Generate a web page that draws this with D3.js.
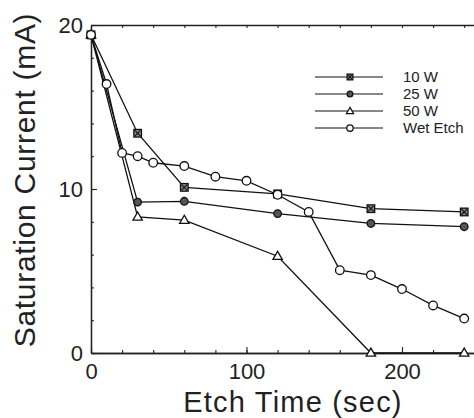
<!DOCTYPE html>
<html>
<head>
<meta charset="utf-8">
<script src="https://cdn.jsdelivr.net/npm/d3@7"></script>
<style>
body { margin: 0; background: #fff; }
svg { display: block; }
.axis path { stroke: #222; stroke-width: 1.3; }
.axis line { stroke: #222; stroke-width: 1.1; }
.axis text { font-family: "Liberation Sans", Arial, sans-serif; font-size: 22px; fill: #222; }
</style>
</head>
<body>
<script>
var w = 474, h = 418;
var margin = {"left": 91, "top": 25, "bottom": 65};

// data
var times = [0, 30, 60, 120, 180, 240];
var w10 = [19.4, 13.4, 10.1, 9.7, 8.8, 8.6];
var w25 = [19.4, 9.2, 9.25, 8.5, 7.9, 7.7];
var w50 = [19.4, 8.3, 8.1, 5.9, 0, 0];
var wetTimes = [0, 10, 20, 30, 40, 60, 80, 100, 120, 140, 160, 180, 200, 220, 240];
var wet = [19.4, 16.4, 12.2, 12.0, 11.6, 11.4, 10.75, 10.5, 9.65, 8.6, 5.05, 4.75, 3.9, 2.9, 2.1];
var seriesNames = ["10 W", "25 W", "50 W", "Wet Etch"];
var xTicks = [0, 100, 200];
var yTicks = [0, 10, 20];

var svg = d3.select("body").append("svg")
    .attr("width", w)
    .attr("height", h);

var xScale = d3.scaleLinear()
    .domain([0, 250])
    .range([margin.left, margin.left + 1.555 * 250]);

var yScale = d3.scaleLinear()
    .domain([0, 20])
    .range([h - margin.bottom, margin.top]);

// axes
var bottom = h - margin.bottom;
svg.append("g").classed("axis", true)
    .attr("transform", "translate(0," + bottom + ")")
    .call(d3.axisBottom(xScale).tickValues(d3.range(0, 250, 20)).tickSize(-3).tickFormat("").tickSizeOuter(0));
svg.append("g").classed("axis", true)
    .attr("transform", "translate(0," + bottom + ")")
    .call(d3.axisBottom(xScale).tickValues(xTicks).tickSize(-6).tickPadding(10).tickSizeOuter(0));
svg.append("g").classed("axis", true)
    .attr("transform", "translate(0," + margin.top + ")")
    .call(d3.axisTop(xScale).tickValues(d3.range(20, 250, 20)).tickSize(-3).tickFormat("").tickSizeOuter(0));
svg.append("g").classed("axis", true)
    .attr("transform", "translate(" + margin.left + ",0)")
    .call(d3.axisLeft(yScale).tickValues(d3.range(0, 21, 2)).tickSize(-3).tickFormat("").tickSizeOuter(0));
svg.append("g").classed("axis", true)
    .attr("transform", "translate(" + margin.left + ",0)")
    .call(d3.axisLeft(yScale).tickValues(yTicks).tickSize(-6).tickPadding(8).tickSizeOuter(0));

// axis titles
svg.append("text")
    .attr("x", 293).attr("y", 412)
    .attr("text-anchor", "middle")
    .style("font-family", "Liberation Sans, Arial, sans-serif")
    .style("font-size", "29px")
    .style("letter-spacing", "1.2px")
    .attr("fill", "#222")
    .text("Etch Time (sec)");

svg.append("text")
    .attr("transform", "translate(35,180) rotate(-90)")
    .attr("text-anchor", "middle")
    .style("font-family", "Liberation Sans, Arial, sans-serif")
    .style("font-size", "30px")
    .style("letter-spacing", "0.7px")
    .attr("fill", "#222")
    .text("Saturation Current (mA)");

// series
var line = d3.line()
    .x(function(d){ return xScale(d[0]); })
    .y(function(d){ return yScale(d[1]); });

function zip(xs, ys){ return xs.map(function(x, i){ return [x, ys[i]]; }); }

var series = [
    {name: seriesNames[0], pts: zip(times, w10), mark: "square"},
    {name: seriesNames[1], pts: zip(times, w25), mark: "dot"},
    {name: seriesNames[2], pts: zip(times, w50), mark: "triangle"},
    {name: seriesNames[3], pts: zip(wetTimes, wet), mark: "circle"}
];

function drawMark(g, type, x, y, k){
    k = k || 1;
    var s = 3.8 * k;
    if (type === "square") {
        g.append("rect").attr("x", x - s).attr("y", y - s).attr("width", 2 * s).attr("height", 2 * s)
            .attr("fill", "#888").attr("stroke", "#111").attr("stroke-width", 1.3);
        var c = s - 1;
        g.append("path").attr("d", "M" + (x-c) + "," + (y-c) + "L" + (x+c) + "," + (y+c) + "M" + (x+c) + "," + (y-c) + "L" + (x-c) + "," + (y+c))
            .attr("stroke", "#111").attr("stroke-width", 1.1);
    } else if (type === "dot") {
        g.append("circle").attr("cx", x).attr("cy", y).attr("r", 3.8 * k)
            .attr("fill", "#555").attr("stroke", "#111").attr("stroke-width", 1.3);
    } else if (type === "triangle") {
        g.append("path").attr("d", d3.symbol().type(d3.symbolTriangle).size(38 * k * k)())
            .attr("transform", "translate(" + x + "," + (y + 0.5) + ")")
            .attr("fill", "#fff").attr("stroke", "#111").attr("stroke-width", 1.3);
    } else {
        g.append("circle").attr("cx", x).attr("cy", y).attr("r", 4.3 * k)
            .attr("fill", "#fff").attr("stroke", "#111").attr("stroke-width", 1.3);
    }
}

var plot = svg.append("g").attr("id", "graph");
series.forEach(function(s){
    plot.append("path")
        .datum(s.pts)
        .attr("d", line)
        .attr("fill", "none")
        .attr("stroke", "#111")
        .attr("stroke-width", 1.3);
});
series.forEach(function(s){
    var g = plot.append("g");
    s.pts.forEach(function(p){ drawMark(g, s.mark, xScale(p[0]), yScale(p[1])); });
});

// legend
var legend = svg.append("g").attr("transform", "translate(315,77)");
series.forEach(function(s, i){
    var g = legend.append("g").attr("transform", "translate(0," + (i * 17) + ")");
    g.append("line").attr("x1", 0).attr("x2", 68).attr("y1", 0).attr("y2", 0)
        .attr("stroke", "#111").attr("stroke-width", 1.2);
    drawMark(g, s.mark, 35, 0, 0.75);
    g.append("text").attr("x", 88).attr("y", 0).attr("dy", "0.36em")
        .style("font-family", "Liberation Sans, Arial, sans-serif")
        .style("font-size", "15px")
        .attr("fill", "#222")
        .text(s.name);
});
</script>
</body>
</html>
